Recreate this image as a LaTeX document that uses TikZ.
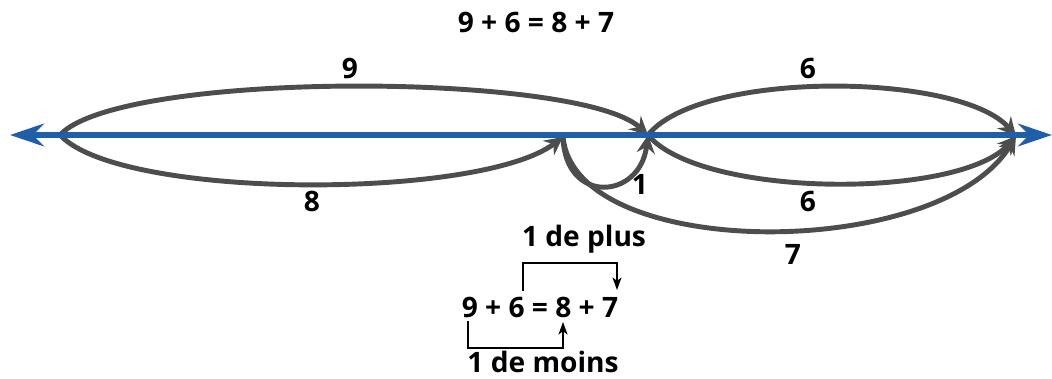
\documentclass[tikz,border=0pt]{standalone}
\usepackage{fontspec}
\setmainfont{Open Sans}
\usetikzlibrary{arrows.meta}
\definecolor{lineblue}{HTML}{1F5EA8}
\definecolor{arcgray}{HTML}{4D4D4D}
\begin{document}
\begin{tikzpicture}[
  x=0.025cm, y=-0.025cm,
  font=\fontsize{20}{23}\selectfont\bfseries,
  numline/.style={draw=lineblue, line width=4.2pt,
    {Stealth[length=24pt,width=16pt]}-{Stealth[length=24pt,width=16pt]}},
  jump/.style={draw=arcgray, line width=3.5pt, line cap=round,
    -{Stealth[length=13pt,width=13pt,inset=4.5pt]}},
  bracket/.style={draw=black, line width=0.8pt,
    -{Stealth[length=9pt,width=6.5pt,inset=2.5pt]}},
  num/.style={inner sep=0.5pt},
]
\path[use as bounding box] (0,0) rectangle (1052,379);

% points on the line
\coordinate (left) at (10,135);
\coordinate (right) at (1052,135);
\coordinate (a) at (60,135);
\coordinate (b) at (563,137);
\coordinate (c) at (648,135);
\coordinate (d) at (1016,136);

% jumps
\draw[jump] (a) .. controls (120,70) and (580,72) .. (c);
\draw[jump] (a) .. controls (120,200) and (480,200) .. (b);
\draw[jump] (c) .. controls (700,70) and (960,72) .. (d);
\draw[jump] (c) .. controls (700,198) and (960,200) .. (d);
\draw[jump] (b) .. controls (565,205) and (640,200) .. (c);
\draw[jump] (b) .. controls (575,262) and (940,262) .. (d);

\draw[numline] (left) -- (right);

% labels
\node[num] (eqtop) at (536,22) {9 + 6 = 8 + 7};
\node[num] (lnine) at (350,68) {9};
\node[num] (leight) at (312,201) {8};
\node[num] (lsixtop) at (808,68) {6};
\node[num] (lsixbot) at (808,201) {6};
\node[num] (lone) at (640,184) {1};
\node[num] (lseven) at (793,254) {7};

% rearranged sum
\node[num] (plus) at (584,239) {1 de plus};
\node[num] (eqbot) at (540,307) {9 + 6 = 8 + 7};
\node[num] (moins) at (543,362) {1 de moins};

\coordinate (six) at (523,291);
\coordinate (seven) at (617,290);
\coordinate (nine) at (468,321);
\coordinate (eight) at (563,322);

\draw[bracket] (six) |- (523,263) -| (seven);
\draw[bracket] (nine) |- (468,348) -| (eight);
\end{tikzpicture}
\end{document}
